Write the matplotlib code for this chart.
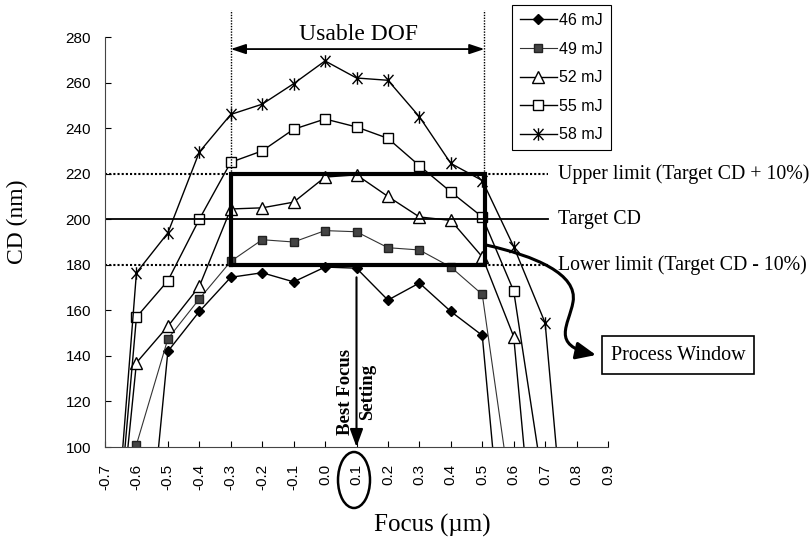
import numpy as np
import matplotlib.pyplot as plt
from matplotlib.path import Path
from matplotlib.patches import FancyArrowPatch, Ellipse

nan = np.nan

# focus settings (um) and CD readings (nm) for each exposure dose
focus = [-0.7, -0.6, -0.5, -0.4, -0.3, -0.2, -0.1, 0.0, 0.1, 0.2, 0.3, 0.4, 0.5, 0.6, 0.7, 0.8]
cd_46 = [nan, 0, 142, 159.5, 174.5, 176.5, 172.5, 179, 178.5, 164.5, 172, 159.5, 149, 0, nan, nan]
cd_49 = [0, 101, 147.5, 165, 181.5, 191, 190, 195, 194.5, 187.5, 186.5, 179, 167, 70, nan, nan]
cd_52 = [0, 137, 153, 170.5, 204.5, 205, 207.5, 218.5, 219.5, 210, 201, 199.5, 183.5, 148.5, 0, nan]
cd_55 = [0, 157, 173, 200, 225, 230, 239.5, 244, 240.5, 235.5, 223.5, 212, 201, 168.5, 78, nan]
cd_58 = [0, 176.5, 194, 229.5, 246, 250.5, 259.5, 269.5, 262, 261, 245, 224.5, 217, 188, 154.5, 0]
doses = ['46 mJ', '49 mJ', '52 mJ', '55 mJ', '58 mJ']

x_ticks = [-0.7, -0.6, -0.5, -0.4, -0.3, -0.2, -0.1, 0.0, 0.1, 0.2, 0.3, 0.4, 0.5, 0.6, 0.7, 0.8, 0.9]
x_labels = ['-0.7', '-0.6', '-0.5', '-0.4', '-0.3', '-0.2', '-0.1', '0.0', '0.1',
            '0.2', '0.3', '0.4', '0.5', '0.6', '0.7', '0.8', '0.9']
y_ticks = [100, 120, 140, 160, 180, 200, 220, 240, 260, 280]

target_cd = 200
upper_cd = 220
lower_cd = 180

W, H = 811, 554


def px(x, y):
    # pixel position -> figure fraction
    return (x / W, 1 - y / H)


serif = 'Liberation Serif'
sans = 'Liberation Sans'

fig = plt.figure(figsize=(W / 100, H / 100), dpi=100)
ax = fig.add_axes([105 / W, 1 - 447 / H, (608 - 105) / W, (447 - 37) / H])

star = Path([(0, -1), (0, 1), (-0.8, -0.9), (0.8, 0.9), (-0.8, 0.9), (0.8, -0.9)],
            [Path.MOVETO, Path.LINETO, Path.MOVETO, Path.LINETO, Path.MOVETO, Path.LINETO])

ax.plot(focus, cd_46, color='black', lw=1.0, marker='D', ms=5, mfc='black', mec='black', label=doses[0])
ax.plot(focus, cd_49, color='#333333', lw=0.8, marker='s', ms=5.5, mfc='#444444', mec='#222222', label=doses[1])
ax.plot(focus, cd_52, color='black', lw=1.0, marker='^', ms=8, mfc='white', mec='black', mew=1.0, label=doses[2])
ax.plot(focus, cd_55, color='black', lw=1.0, marker='s', ms=6.5, mfc='white', mec='black', mew=1.0, label=doses[3])
ax.plot(focus, cd_58, color='black', lw=1.0, marker=star, ms=9, mec='black', mew=1.0, label=doses[4])

ax.set_xlim(-0.7, 0.9)
ax.set_ylim(100, 280)
ax.set_xticks(x_ticks)
ax.set_xticklabels(x_labels, rotation=90, fontfamily=sans, fontsize=11)
ax.set_yticks(y_ticks)
for lab in ax.get_yticklabels():
    lab.set_fontfamily(sans)
ax.tick_params(axis='both', direction='in', length=4, width=0.8, labelsize=11)
ax.tick_params(axis='x', pad=12)
ax.tick_params(axis='y', pad=10)
ax.spines['top'].set_visible(False)
ax.spines['right'].set_visible(False)
for s in ['left', 'bottom']:
    ax.spines[s].set_color('#444444')
    ax.spines[s].set_linewidth(0.8)

# spec limits and target
ax.plot([-0.7, 0.71], [upper_cd, upper_cd], color='black', lw=1.5, ls=(0, (1, 1)))
ax.plot([-0.7, 0.71], [target_cd, target_cd], color='black', lw=1.3)
ax.plot([-0.7, 0.71], [lower_cd, lower_cd], color='black', lw=1.5, ls=(0, (1, 1)))
ax.text(0.74, upper_cd, 'Upper limit (Target CD + 10%)', ha='left', va='center', fontsize=14.3, fontfamily=serif)
ax.text(0.74, target_cd, 'Target CD', ha='left', va='center', fontsize=14.3, fontfamily=serif)
ax.text(0.74, lower_cd, 'Lower limit (Target CD - 10%)', ha='left', va='center', fontsize=14.3, fontfamily=serif)

# process window box
ax.plot([-0.3, 0.51, 0.51, -0.3, -0.3], [lower_cd, lower_cd, upper_cd, upper_cd, lower_cd],
        color='black', lw=3, solid_joinstyle='miter')

# usable DOF
ax.plot([-0.3, -0.3], [upper_cd, 292], color='black', lw=1.0, ls=(0, (1, 1)), clip_on=False)
ax.plot([0.507, 0.507], [upper_cd, 292], color='black', lw=1.0, ls=(0, (1, 1)), clip_on=False)
ax.annotate('', xy=(-0.3, 274.7), xytext=(0.507, 274.7), annotation_clip=False,
            arrowprops=dict(arrowstyle='<|-|>,head_length=0.6,head_width=0.2', mutation_scale=15,
                            lw=1.3, color='black', shrinkA=0, shrinkB=0))
ax.text(0.105, 281, 'Usable DOF', ha='center', va='center', fontsize=17, fontfamily=serif, clip_on=False)

# best focus
ax.annotate('', xy=(0.1, 100), xytext=(0.1, 174.5),
            arrowprops=dict(arrowstyle='-|>,head_length=0.6,head_width=0.22', mutation_scale=18,
                            lw=1.5, color='black', shrinkA=0, shrinkB=0))
ax.text(0.1, 124, 'Best Focus\nSetting', rotation=90, ha='center', va='center', multialignment='center',
        fontsize=13.5, fontweight='bold', fontfamily=serif, linespacing=1.35)
fig.add_artist(Ellipse(px(354, 480), 32 / W, 56 / H, transform=fig.transFigure, fill=False, lw=1.8, ec='black'))

# process window callout
fig.text(*px(678, 355), 'Process Window', ha='center', va='center', fontsize=14.5, fontfamily=serif,
         bbox=dict(boxstyle='square,pad=0.45', fc='white', ec='black', lw=1.2))
verts = [px(486, 245), px(535, 256), px(578, 274), px(573, 302),
         px(569, 325), px(550, 345), px(596, 355)]
codes = [Path.MOVETO] + [Path.CURVE4] * 6
fig.add_artist(FancyArrowPatch(path=Path(verts, codes), transform=fig.transFigure,
                               arrowstyle='-|>,head_length=0.8,head_width=0.35', mutation_scale=15,
                               lw=2.2, color='black'))

# axis titles
fig.text(*px(17, 222), 'CD (nm)', rotation=90, ha='center', va='center', fontsize=17, fontfamily=serif)
fig.text(*px(432, 525), 'Focus (\u00b5m)', ha='center', va='center', fontsize=18, fontfamily=serif)

leg = fig.legend(loc='upper left', bbox_to_anchor=px(512, 5), frameon=True, fancybox=False,
                 edgecolor='black', framealpha=1, handlelength=2.3, labelspacing=0.85, borderpad=0.5,
                 handletextpad=0.15, borderaxespad=0, prop={'family': sans, 'size': 11.5})
leg.get_frame().set_linewidth(0.8)

fig.savefig('out.png', dpi=100)
